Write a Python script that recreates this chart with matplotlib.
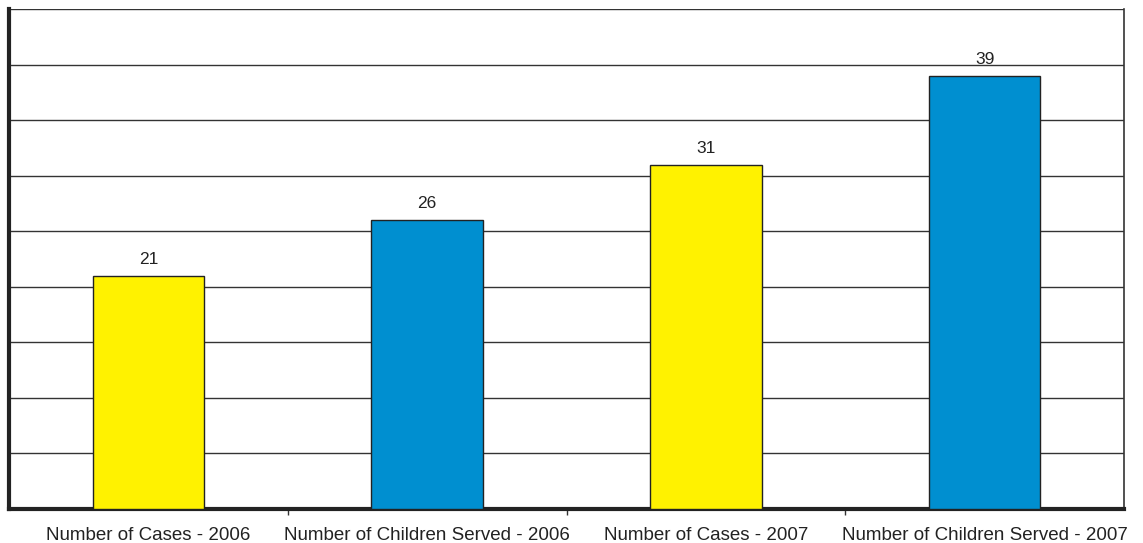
import numpy as np
import matplotlib.pyplot as plt

plt.rcParams['font.family'] = ['Liberation Sans', 'DejaVu Sans']

categories = ['Number of Cases - 2006', 'Number of Children Served - 2006',
              'Number of Cases - 2007', 'Number of Children Served - 2007']
values = [21, 26, 31, 39]
colors = ['#FFF200', '#008FD0', '#FFF200', '#008FD0']

fig = plt.figure(figsize=(11.43, 5.43), dpi=100)
ax = fig.add_axes([9/1143, 34/543, 1115/1143, 500/543])

x = np.arange(len(categories))
bars = ax.bar(x, values, width=0.40, color=colors, edgecolor='#222222', linewidth=1.0, zorder=3)
for b, v in zip(bars, values):
    ax.text(b.get_x() + b.get_width()/2, v + 0.8, str(v), ha='center', va='bottom',
            fontsize=12.5, color='#222222')

ax.set_xlim(-0.5, len(categories) - 0.5)
ax.set_ylim(0, 45)
ax.set_yticks(np.arange(0, 46, 5))
ax.set_yticklabels([])
ax.tick_params(axis='y', length=0)
ax.yaxis.grid(True, color='#333333', linewidth=1.0, zorder=0)

ax.set_xticks(x)
ax.set_xticklabels(categories, fontsize=13.5, color='#222222')
ax.tick_params(axis='x', length=0, pad=13)
ax.set_xticks(x[:-1] + 0.5, minor=True)
ax.tick_params(axis='x', which='minor', length=4, width=1, color='#333333')

ax.spines['top'].set_visible(False)
ax.spines['left'].set_linewidth(3)
ax.spines['left'].set_color('#222222')
ax.spines['bottom'].set_linewidth(3)
ax.spines['bottom'].set_color('#222222')
ax.spines['right'].set_linewidth(1.2)
ax.spines['right'].set_color('#333333')

fig.savefig('out.png', dpi=100)
